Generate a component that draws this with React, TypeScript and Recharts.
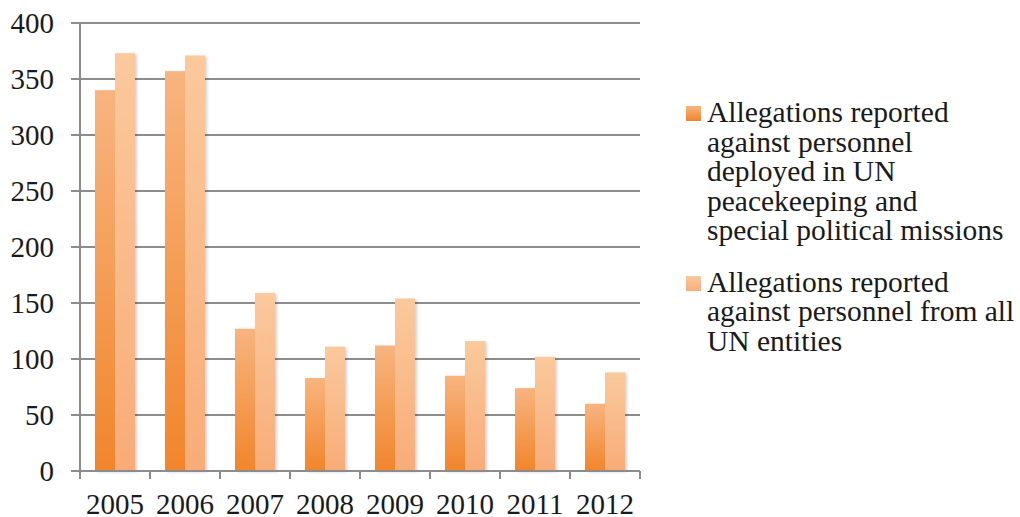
import React from 'react'
import { BarChart, Bar, XAxis, YAxis, CartesianGrid, Legend } from 'recharts'

const years = ['2005', '2006', '2007', '2008', '2009', '2010', '2011', '2012']
const missionAllegations = [340, 357, 127, 83, 112, 85, 74, 60]
const allEntityAllegations = [373, 371, 159, 111, 154, 116, 102, 88]
const yTicks = [0, 50, 100, 150, 200, 250, 300, 350, 400]

const seriesLabels = [
  ['Allegations reported', 'against personnel', 'deployed in UN', 'peacekeeping and', 'special political missions'],
  ['Allegations reported', 'against personnel from all', 'UN entities']
]

const data = years.map((year, i) => ({
  year,
  missions: missionAllegations[i],
  allEntities: allEntityAllegations[i]
}))

const WIDTH = 1020
const HEIGHT = 517
const MARGIN = { top: 23, right: 380, bottom: 0, left: 0 }
const Y_AXIS_WIDTH = 80
const FONT = '"Liberation Serif", serif'
const GRID = '#8c8c8c'
const band = (WIDTH - MARGIN.left - MARGIN.right - Y_AXIS_WIDTH) / years.length

const YearTick = ({ x, y, payload, index }: any) => (
  <g>
    <line x1={x - band / 2} y1={y - 8} x2={x - band / 2} y2={y} stroke={GRID} strokeWidth={2} />
    {index === years.length - 1 && (
      <line x1={x + band / 2} y1={y - 8} x2={x + band / 2} y2={y} stroke={GRID} strokeWidth={2} />
    )}
    <text x={x} y={y + 35} textAnchor="middle" fontFamily={FONT} fontSize={29} fill="#1a1a1a">
      {payload.value}
    </text>
  </g>
)

const ShadowBar = (props: any) => {
  const { x, y, width, height, fill } = props
  if (!height || height <= 0) return null
  return <rect x={x} y={y} width={width} height={height} fill={fill} filter="url(#barShadow)" />
}

const LegendBox = () => (
  <div style={{ fontFamily: FONT, fontSize: 29.5, lineHeight: '29.5px', color: '#1a1a1a', textAlign: 'left' }}>
    {seriesLabels.map((lines, i) => (
      <div key={i} style={{ position: 'relative', paddingLeft: 21, marginBottom: 22 }}>
        <span
          style={{
            position: 'absolute',
            left: 0,
            top: 8,
            width: 15,
            height: 15,
            background:
              i === 0
                ? 'linear-gradient(to bottom, #F8B47F, #F1852B)'
                : 'linear-gradient(to bottom, #FAC99C, #F8AC78)'
          }}
        />
        {lines.map((line, j) => (
          <div key={j} style={{ whiteSpace: 'nowrap' }}>{line}</div>
        ))}
      </div>
    ))}
  </div>
)

export default function App() {
  return (
    <div style={{ position: 'absolute', left: 0, top: 0, width: WIDTH, height: HEIGHT, background: '#fff' }}>
      <BarChart width={WIDTH} height={HEIGHT} data={data} margin={MARGIN} barGap={0} barCategoryGap={15}>
        <defs>
          <linearGradient id="gradMissions" x1="0" y1="0" x2="0" y2="1">
            <stop offset="0%" stopColor="#F8B47F" />
            <stop offset="100%" stopColor="#F1852B" />
          </linearGradient>
          <linearGradient id="gradAll" x1="0" y1="0" x2="0" y2="1">
            <stop offset="0%" stopColor="#FAC99C" />
            <stop offset="100%" stopColor="#F8AC78" />
          </linearGradient>
          <filter id="barShadow" x="-20%" y="-5%" width="150%" height="115%">
            <feDropShadow dx="2" dy="1" stdDeviation="1.5" floodColor="#000" floodOpacity="0.18" />
          </filter>
        </defs>
        <CartesianGrid vertical={false} stroke={GRID} strokeWidth={2} />
        <XAxis
          dataKey="year"
          height={46}
          axisLine={{ stroke: GRID, strokeWidth: 2 }}
          tickLine={false}
          interval={0}
          tick={<YearTick />}
        />
        <YAxis
          width={Y_AXIS_WIDTH}
          domain={[0, 400]}
          ticks={yTicks}
          interval={0}
          axisLine={{ stroke: GRID, strokeWidth: 2 }}
          tickLine={{ stroke: GRID, strokeWidth: 2 }}
          tickSize={9}
          tickMargin={17}
          tick={{ fontFamily: FONT, fontSize: 29, fill: '#1a1a1a' }}
        />
        <Legend
          layout="vertical"
          align="center"
          verticalAlign="middle"
          content={<LegendBox />}
          wrapperStyle={{ left: 686, top: 98, width: 334 }}
        />
        <Bar
          dataKey="missions"
          name={seriesLabels[0].join(' ')}
          fill="url(#gradMissions)"
          shape={<ShadowBar />}
          isAnimationActive={false}
        />
        <Bar
          dataKey="allEntities"
          name={seriesLabels[1].join(' ')}
          fill="url(#gradAll)"
          shape={<ShadowBar />}
          isAnimationActive={false}
        />
      </BarChart>
    </div>
  )
}
